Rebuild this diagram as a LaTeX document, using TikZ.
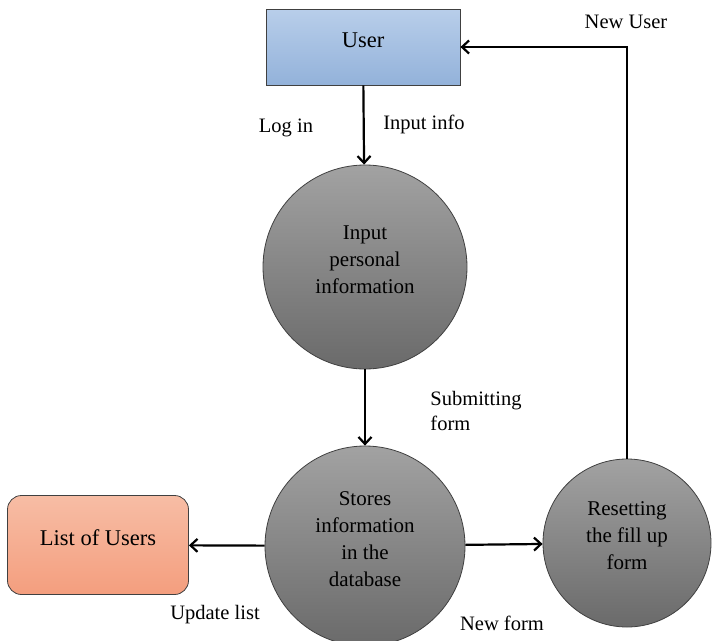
\documentclass[tikz,border=0pt]{standalone}
\usepackage{fontspec}
\setmainfont{Liberation Serif}
\usetikzlibrary{arrows.meta}

\definecolor{usertop}{HTML}{B8CEEA}
\definecolor{userbot}{HTML}{93B2DA}
\definecolor{proctop}{HTML}{A2A2A2}
\definecolor{procbot}{HTML}{6A6A6A}
\definecolor{listtop}{HTML}{F7BDA5}
\definecolor{listbot}{HTML}{F49E7E}

\begin{document}
\begin{tikzpicture}[x=1pt, y=-1pt, line width=2.2pt,
  >={Straight Barb[length=7pt,width=13pt]},
  txt/.style = {align=center, yshift=7pt, font=\fontsize{21}{27}\selectfont},
  main/.style = {draw=black!75, line width=0.8pt, circle,
    top color=proctop, bottom color=procbot, inner sep=0pt},
  ent/.style = {draw=black!75, line width=0.8pt},
  lbl/.style = {font=\fontsize{20.5}{25}\selectfont, align=left}]
\useasboundingbox (0,0) rectangle (712,640);

\node[ent, top color=usertop, bottom color=userbot,
  minimum width=194pt, minimum height=76pt,
  label={[txt, font=\fontsize{22.5}{27}\selectfont]center:User}] (user) at (363,47) {};
\node[main, minimum size=204pt,
  label={[txt]center:Input\\personal\\information}] (input) at (365,267) {};
\node[main, minimum size=200pt,
  label={[txt]center:Stores\\information\\in the\\database}] (store) at (365,546) {};
\node[main, minimum size=168pt,
  label={[txt]center:Resetting\\the fill up\\form}] (reset) at (627,543) {};
\node[ent, rounded corners=14pt, top color=listtop, bottom color=listbot,
  minimum width=181pt, minimum height=99pt,
  label={[txt, font=\fontsize{22.5}{27}\selectfont]center:List of Users}] (list) at (98,545) {};

\draw[->] (user) -- (input);
\draw[->] (input) -- (store);
\draw[->] (store) -- (list);
\draw[->] (store) -- (reset);
\draw[->] (reset.north) |- (user.east);

\node[lbl] (login) at (286,128) {Log in};
\node[lbl] (inpinfo) at (424,124) {Input info};
\node[lbl, anchor=west] (submit) at (426,411) {Submitting\\form};
\node[lbl] (upd) at (215,615) {Update list};
\node[lbl] (newform) at (502,623) {New form};
\node[lbl] (newuser) at (626,22) {New User};
\end{tikzpicture}
\end{document}
